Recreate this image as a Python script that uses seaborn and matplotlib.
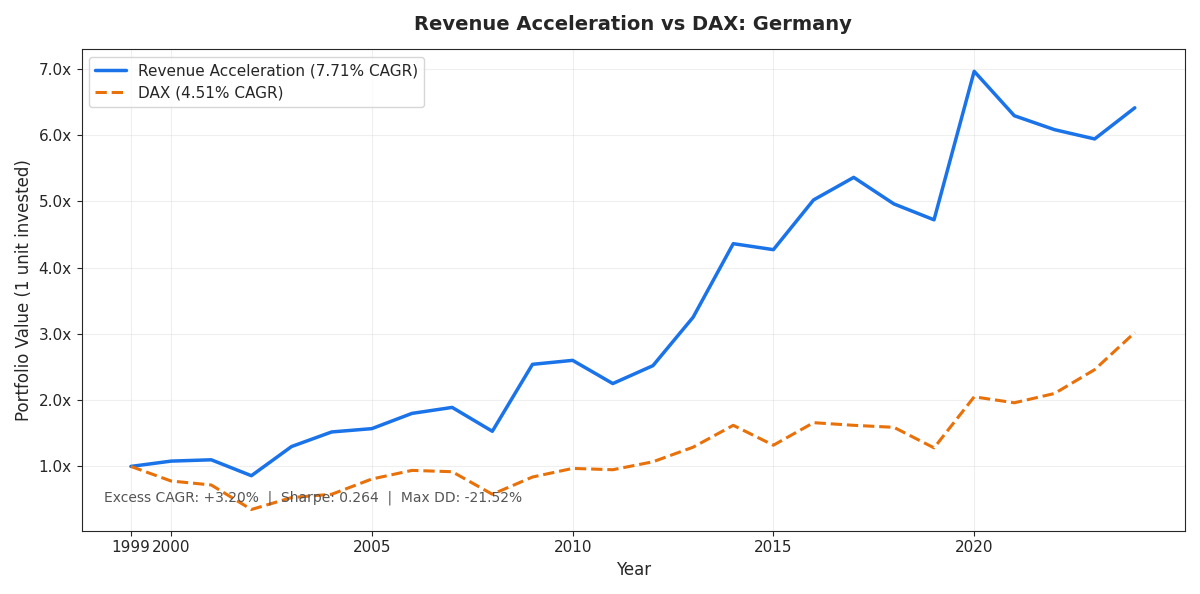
import matplotlib
matplotlib.use("Agg")
import matplotlib.pyplot as plt
import seaborn as sns
import pandas as pd
from matplotlib.ticker import FuncFormatter

sns.set_style("ticks")
plt.rcParams['font.family'] = ['DejaVu Sans']

years = list(range(1999, 2025))
strategy = [1.00, 1.08, 1.10, 0.86, 1.30, 1.52, 1.57, 1.80, 1.89, 1.53, 2.54, 2.60, 2.25,
            2.52, 3.25, 4.36, 4.27, 5.02, 5.36, 4.96, 4.72, 6.96, 6.29, 6.08, 5.94, 6.41]
dax = [1.00, 0.78, 0.72, 0.35, 0.53, 0.58, 0.81, 0.94, 0.92, 0.58, 0.84, 0.97, 0.95,
       1.07, 1.29, 1.62, 1.32, 1.66, 1.62, 1.59, 1.28, 2.05, 1.96, 2.10, 2.46, 3.02]
xticks = [1999, 2000, 2005, 2010, 2015, 2020]

df = pd.DataFrame({"Year": years, "strategy": strategy, "dax": dax})

fig, ax = plt.subplots(figsize=(12, 5.94), dpi=100)
sns.lineplot(data=df, x="Year", y="strategy", ax=ax, color="#1a73e8", linewidth=2.5,
             label="Revenue Acceleration (7.71% CAGR)")
sns.lineplot(data=df, x="Year", y="dax", ax=ax, color="#e8710a", linewidth=2.2,
             linestyle="--", label="DAX (4.51% CAGR)")

ax.set_xticks(xticks)
ax.set_yticks([1, 2, 3, 4, 5, 6, 7])
ax.yaxis.set_major_formatter(FuncFormatter(lambda v, p: f"{v:.1f}x"))
ax.set_xlim(1997.77, 2025.25)
ax.set_ylim(0.03, 7.29)
ax.grid(True, alpha=0.3)
ax.tick_params(labelsize=11)
ax.set_xlabel("Year", fontsize=12)
ax.set_ylabel("Portfolio Value (1 unit invested)", fontsize=12)
ax.set_title("Revenue Acceleration vs DAX: Germany", fontsize=14, fontweight="bold", pad=14)
ax.legend(loc="upper left", fontsize=11)
ax.text(0.02, 0.06, "Excess CAGR: +3.20%  |  Sharpe: 0.264  |  Max DD: -21.52%",
        transform=ax.transAxes, fontsize=10, color="#555555")

plt.tight_layout()
plt.savefig("out.png")
